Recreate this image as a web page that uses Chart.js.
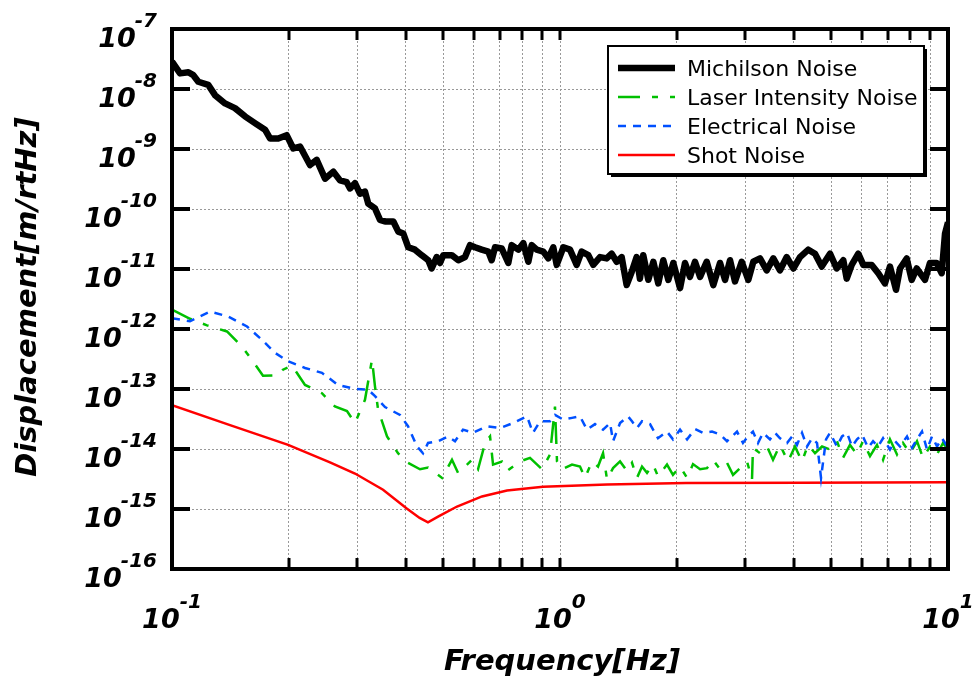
<!DOCTYPE html>
<html>
<head>
<meta charset="utf-8">
<script src="https://cdn.jsdelivr.net/npm/chart.js@4/dist/chart.umd.min.js"></script>
<style>
  html, body { margin: 0; padding: 0; background: #fff; }
  #wrap { width: 976px; height: 681px; }
</style>
</head>
<body>
<div id="wrap"><canvas id="c" width="976" height="681"></canvas></div>
<script>
// ---------------- DATA ----------------
const michelsonFreq = [0.1,0.1049,0.1102,0.1135,0.1169,0.1240,0.1291,0.1370,0.1453,0.1542,0.1636,0.1737,0.1789,0.1879,0.1975,0.2054,0.2138,0.2268,0.2360,0.2480,0.2605,0.2710,0.2820,0.2876,0.2962,0.3051,0.3143,0.3205,0.3336,0.3437,0.3540,0.3719,0.3830,0.3946,0.4064,0.4229,0.4400,0.4576,0.4669,0.4810,0.4905,0.5002,0.5260,0.5469,0.5691,0.5861,0.6038,0.6283,0.6535,0.6667,0.6801,0.7075,0.7358,0.7507,0.7807,0.8043,0.8286,0.8455,0.8709,0.9057,0.9329,0.9610,0.9806,1.020,1.061,1.104,1.137,1.183,1.218,1.268,1.319,1.359,1.400,1.442,1.485,1.530,1.576,1.607,1.639,1.689,1.740,1.792,1.846,1.902,1.959,2.039,2.100,2.163,2.228,2.296,2.388,2.484,2.585,2.663,2.743,2.825,2.940,3.057,3.149,3.277,3.410,3.546,3.690,3.840,3.993,4.155,4.365,4.542,4.726,4.965,5.166,5.373,5.482,5.647,5.872,6.049,6.358,6.612,6.880,7.087,7.345,7.521,7.826,8.061,8.304,8.723,8.986,9.352,9.634,9.825,10.0];
const michelsonNoise = [2.85e-8,1.82e-8,1.9e-8,1.7e-8,1.32e-8,1.17e-8,7.9e-9,5.75e-9,4.8e-9,3.5e-9,2.7e-9,2.1e-9,1.5e-9,1.5e-9,1.7e-9,1.02e-9,1.1e-9,5.4e-10,6.6e-10,3.2e-10,4.2e-10,3.0e-10,2.8e-10,2.2e-10,2.7e-10,1.8e-10,1.95e-10,1.23e-10,1.02e-10,6.6e-11,6.2e-11,6.2e-11,4.2e-11,3.9e-11,2.3e-11,2.1e-11,1.7e-11,1.4e-11,1.02e-11,1.58e-11,1.26e-11,1.7e-11,1.7e-11,1.4e-11,1.58e-11,2.5e-11,2.3e-11,2.1e-11,1.95e-11,1.4e-11,2.3e-11,2.2e-11,1.26e-11,2.5e-11,2.1e-11,2.7e-11,1.32e-11,2.5e-11,2.1e-11,1.95e-11,1.5e-11,2.3e-11,1.17e-11,2.3e-11,2.1e-11,1.17e-11,1.95e-11,1.7e-11,1.17e-11,1.58e-11,1.5e-11,1.8e-11,1.32e-11,1.58e-11,5.4e-12,8.9e-12,1.58e-11,6.9e-12,1.7e-11,6.6e-12,1.32e-11,5.75e-12,1.4e-11,6.6e-12,1.26e-11,4.8e-12,1.26e-11,7.4e-12,1.32e-11,7.4e-12,1.32e-11,5.4e-12,1.26e-11,6.6e-12,1.4e-11,6.2e-12,1.32e-11,6.6e-12,1.32e-11,1.5e-11,9.5e-12,1.5e-11,9.5e-12,1.58e-11,1.02e-11,1.58e-11,2.1e-11,1.8e-11,1.1e-11,1.8e-11,1.02e-11,1.4e-11,6.9e-12,1.17e-11,1.8e-11,1.17e-11,1.17e-11,8.5e-12,5.75e-12,1.1e-11,4.5e-12,1.02e-11,1.5e-11,6.6e-12,1.02e-11,6.6e-12,1.26e-11,1.26e-11,8.5e-12,3.9e-11,6.0e-11];

const laserFreq = [0.1,0.1113,0.1231,0.1386,0.1515,0.1617,0.1716,0.1876,0.1932,0.2039,0.2202,0.2435,0.2630,0.2825,0.2962,0.3143,0.3277,0.3336,0.3396,0.3583,0.3824,0.4057,0.4357,0.4570,0.4965,0.5267,0.5460,0.5691,0.5933,0.6148,0.6410,0.6603,0.6721,0.7087,0.7301,0.7886,0.8369,0.8987,0.9424,0.9707,0.9824,1.012,1.074,1.126,1.160,1.209,1.253,1.291,1.322,1.370,1.428,1.488,1.533,1.579,1.627,1.676,1.737,1.789,1.887,1.955,2.039,2.126,2.202,2.296,2.392,2.480,2.585,2.694,2.792,2.911,3.034,3.125,3.143,3.277,3.416,3.540,3.690,3.869,4.033,4.205,4.357,4.542,4.735,4.965,5.175,5.363,5.589,5.828,6.039,6.295,6.561,6.802,7.087,7.388,7.656,7.981,8.320,8.622,8.986,9.368,9.708,10.0];
const laserNoise = [2.1e-12,1.48e-12,1.15e-12,9.1e-13,5.1e-13,2.9e-13,1.66e-13,1.7e-13,2.1e-13,2.45e-13,1.17e-13,8.5e-14,5.1e-14,4.3e-14,2.7e-14,6.6e-14,3.1e-13,1.1e-13,4.6e-14,1.62e-14,8.5e-15,5.9e-15,4.6e-15,4.9e-15,3.3e-15,6.6e-15,4.0e-15,5.1e-15,6.6e-15,4.6e-15,1.26e-14,1.62e-14,5.5e-15,6.2e-15,4.3e-15,6.2e-15,7.1e-15,4.6e-15,8.1e-15,5.1e-14,6.2e-15,4.6e-15,5.5e-15,5.1e-15,3.3e-15,6.2e-15,5.1e-15,8.5e-15,3.1e-15,4.8e-15,6.2e-15,4.3e-15,5.9e-15,3.3e-15,5.1e-15,4.0e-15,5.5e-15,3.5e-15,5.5e-15,3.7e-15,5.1e-15,3.3e-15,5.6e-15,4.6e-15,4.8e-15,6.6e-15,4.6e-15,5.9e-15,3.7e-15,4.8e-15,6.2e-15,3.1e-15,1.05e-14,8.5e-15,1.1e-14,6.6e-15,1.17e-14,6.2e-15,1.1e-14,6.2e-15,1.17e-14,8.5e-15,1.1e-14,9.8e-15,1.35e-14,7.1e-15,1.17e-14,8.1e-15,1.35e-14,7.6e-15,1.17e-14,6.6e-15,1.45e-14,8.1e-15,1.26e-14,8.5e-15,1.35e-14,7.1e-15,1.1e-14,8.1e-15,1.26e-14,9.8e-15];

const electricalFreq = [0.1,0.1113,0.1253,0.1394,0.1561,0.1706,0.1843,0.1991,0.2202,0.2435,0.2678,0.2962,0.3200,0.3336,0.3540,0.3869,0.4057,0.4280,0.4436,0.4570,0.4850,0.5144,0.5363,0.5623,0.5968,0.6485,0.7003,0.7566,0.8222,0.8519,0.8880,0.9424,0.9707,1.018,1.074,1.126,1.174,1.231,1.291,1.346,1.370,1.428,1.497,1.533,1.579,1.627,1.706,1.789,1.887,1.955,2.039,2.126,2.228,2.336,2.465,2.585,2.694,2.775,2.859,2.962,3.051,3.143,3.238,3.336,3.477,3.582,3.690,3.847,3.963,4.081,4.205,4.331,4.462,4.597,4.707,4.849,4.965,5.175,5.331,5.492,5.657,5.828,6.004,6.222,6.410,6.603,6.802,7.087,7.301,7.521,7.840,8.077,8.320,8.570,8.829,9.095,9.368,9.650,10.0];
const electricalNoise = [1.51e-12,1.35e-12,1.95e-12,1.62e-12,1.1e-12,6.6e-13,4.0e-13,2.9e-13,2.24e-13,1.86e-13,1.17e-13,1.0e-13,9.8e-14,7.6e-14,5.0e-14,3.7e-14,2.4e-14,1.1e-14,8.5e-15,1.26e-14,1.35e-14,1.62e-14,1.35e-14,2.1e-14,1.86e-14,2.4e-14,2.24e-14,2.7e-14,3.5e-14,1.86e-14,2.9e-14,2.9e-14,3.7e-14,3.1e-14,3.3e-14,3.5e-14,2.1e-14,2.6e-14,2.1e-14,2.7e-14,1.35e-14,2.7e-14,3.5e-14,2.9e-14,2.24e-14,2.9e-14,2.6e-14,1.51e-14,1.95e-14,1.45e-14,2.1e-14,1.45e-14,2.15e-14,1.86e-14,1.95e-14,1.74e-14,1.35e-14,1.62e-14,1.95e-14,1.26e-14,1.62e-14,1.95e-14,1.26e-14,1.86e-14,1.45e-14,1.86e-14,1.51e-14,1.26e-14,1.62e-14,1.17e-14,1.86e-14,1.1e-14,1.51e-14,1.26e-14,3.3e-15,1.45e-14,1.86e-14,1.1e-14,1.62e-14,1.86e-14,1.1e-14,1.45e-14,1.74e-14,1.05e-14,1.35e-14,1.1e-14,1.51e-14,9.8e-15,1.35e-14,1.1e-14,1.62e-14,1.05e-14,1.45e-14,1.95e-14,9.8e-15,1.62e-14,1.1e-14,1.51e-14,1.05e-14];

const shotFreq = [0.1,0.1411,0.1992,0.2554,0.2962,0.3499,0.4027,0.4348,0.4568,0.4876,0.5428,0.6295,0.7302,0.9041,1.322,2.113,4.155,10.0];
const shotNoise = [5.4e-14,2.5e-14,1.17e-14,6.0e-15,3.9e-15,2.1e-15,1.02e-15,7.1e-16,6.0e-16,7.6e-16,1.1e-15,1.62e-15,2.04e-15,2.34e-15,2.57e-15,2.7e-15,2.75e-15,2.8e-15];

const seriesLabels = ['Michilson Noise', 'Laser Intensity Noise', 'Electrical Noise', 'Shot Noise'];
const xTickExponents = [-1, 0, 1];
const yTickExponents = [-16, -15, -14, -13, -12, -11, -10, -9, -8, -7];
const xGridValues = [0.1,0.2,0.3,0.4,0.5,0.6,0.7,0.8,0.9,1,2,3,4,5,6,7,8,9,10];
const xTitle = 'Frequency[Hz]';
const yTitle = 'Displacement[m/rtHz]';

// ---------------- CHART ----------------
const toXY = (xs, ys) => xs.map((x, i) => ({x: x, y: ys[i]}));
const FONT = '"DejaVu Sans", Verdana, sans-serif';

const decor = {
  id: 'decor',
  afterDatasetsDraw(chart) {
    const {ctx, chartArea: a, scales} = chart;
    const xs = scales.x, ys = scales.y;
    ctx.save();
    ctx.strokeStyle = '#000';
    ctx.fillStyle = '#000';
    ctx.lineCap = 'butt';
    // x ticks (inward, top and bottom)
    ctx.lineWidth = 3;
    xGridValues.forEach(v => {
      const px = Math.round(xs.getPixelForValue(v));
      ctx.beginPath();
      ctx.moveTo(px, a.top); ctx.lineTo(px, a.top + 11);
      ctx.moveTo(px, a.bottom); ctx.lineTo(px, a.bottom - 11);
      ctx.stroke();
    });
    // y ticks (inward, left and right)
    ctx.lineWidth = 4;
    yTickExponents.forEach(e => {
      const py = Math.round(ys.getPixelForValue(Math.pow(10, e)));
      ctx.beginPath();
      ctx.moveTo(a.left, py); ctx.lineTo(a.left + 18, py);
      ctx.moveTo(a.right, py); ctx.lineTo(a.right - 18, py);
      ctx.stroke();
    });
    // frame
    ctx.lineWidth = 4;
    ctx.strokeRect(a.left, a.top, a.right - a.left, a.bottom - a.top);

    // y tick labels
    const baseFont = 'italic bold 27px ' + FONT;
    const supFont = 'italic bold 20px ' + FONT;
    ctx.textAlign = 'left';
    ctx.textBaseline = 'alphabetic';
    const rightEdge = a.left - 15;
    yTickExponents.forEach(e => {
      const py = ys.getPixelForValue(Math.pow(10, e));
      const sup = String(e);
      ctx.font = supFont;
      const sw = ctx.measureText(sup).width;
      ctx.fillText(sup, rightEdge - sw, py - 2);
      ctx.font = baseFont;
      const bw = ctx.measureText('10').width;
      ctx.fillText('10', rightEdge - sw - bw + 1, py + 18);
    });
    // x tick labels
    xTickExponents.forEach(e => {
      const px = xs.getPixelForValue(Math.pow(10, e));
      const sup = String(e);
      ctx.font = baseFont;
      const bw = ctx.measureText('10').width;
      ctx.font = supFont;
      const sw = ctx.measureText(sup).width;
      const start = px - (bw + sw) / 2;
      ctx.font = baseFont;
      ctx.fillText('10', start, a.bottom + 59);
      ctx.font = supFont;
      ctx.fillText(sup, start + bw, a.bottom + 39);
    });
    // axis titles
    ctx.font = 'italic bold 29px ' + FONT;
    ctx.textAlign = 'center';
    ctx.fillText(xTitle, (a.left + a.right) / 2 + 2, a.bottom + 101);
    ctx.save();
    ctx.translate(36, (a.top + a.bottom) / 2 - 2);
    ctx.rotate(-Math.PI / 2);
    ctx.fillText(yTitle, 0, 0);
    ctx.restore();

    // legend
    const bx = 608, by = 46, bw = 316, bh = 128;
    ctx.fillStyle = '#000';
    ctx.fillRect(bx + 3, by + 3, bw, bh);
    ctx.fillStyle = '#fff';
    ctx.fillRect(bx, by, bw, bh);
    ctx.lineWidth = 2;
    ctx.strokeStyle = '#000';
    ctx.strokeRect(bx, by, bw, bh);
    ctx.font = '22px ' + FONT;
    ctx.textAlign = 'left';
    chart.data.datasets.forEach((ds, i) => {
      const ry = by + 22 + i * 29;
      ctx.save();
      ctx.strokeStyle = ds.borderColor;
      ctx.lineWidth = ds.borderWidth;
      ctx.setLineDash(ds.borderDash || []);
      ctx.beginPath();
      ctx.moveTo(bx + 10, ry);
      ctx.lineTo(bx + 67, ry);
      ctx.stroke();
      ctx.restore();
      ctx.fillStyle = '#000';
      ctx.fillText(ds.label, bx + 79, ry + 8);
    });
    ctx.restore();
  }
};

new Chart(document.getElementById('c'), {
  type: 'line',
  data: {
    datasets: [
      { label: seriesLabels[0], data: toXY(michelsonFreq, michelsonNoise), borderColor: '#000000', borderWidth: 6.5, borderJoinStyle: 'round', order: 0 },
      { label: seriesLabels[1], data: toXY(laserFreq, laserNoise), borderColor: '#00c000', borderWidth: 2.5, borderDash: [22, 12, 6, 12], order: 2 },
      { label: seriesLabels[2], data: toXY(electricalFreq, electricalNoise), borderColor: '#0050ff', borderWidth: 2.5, borderDash: [8, 7], order: 1 },
      { label: seriesLabels[3], data: toXY(shotFreq, shotNoise), borderColor: '#ff0000', borderWidth: 2.5, order: 3 }
    ]
  },
  options: {
    responsive: false,
    animation: false,
    devicePixelRatio: 1,
    layout: { padding: { left: 172, right: 28, top: 29, bottom: 112 } },
    elements: { point: { radius: 0 }, line: { tension: 0, fill: false } },
    plugins: { legend: { display: false }, tooltip: { enabled: false } },
    scales: {
      x: {
        type: 'logarithmic', min: 0.1, max: 10,
        afterBuildTicks: s => { s.ticks = xGridValues.map(v => ({ value: v })); },
        ticks: { display: false },
        grid: { color: '#999999', lineWidth: 1, drawTicks: false },
        border: { display: false, dash: [2, 2] }
      },
      y: {
        type: 'logarithmic', min: 1e-16, max: 1e-7,
        afterBuildTicks: s => { s.ticks = yTickExponents.map(e => ({ value: Math.pow(10, e) })); },
        ticks: { display: false },
        grid: { color: '#999999', lineWidth: 1, drawTicks: false },
        border: { display: false, dash: [2, 2] }
      }
    }
  },
  plugins: [decor]
});
</script>
</body>
</html>
